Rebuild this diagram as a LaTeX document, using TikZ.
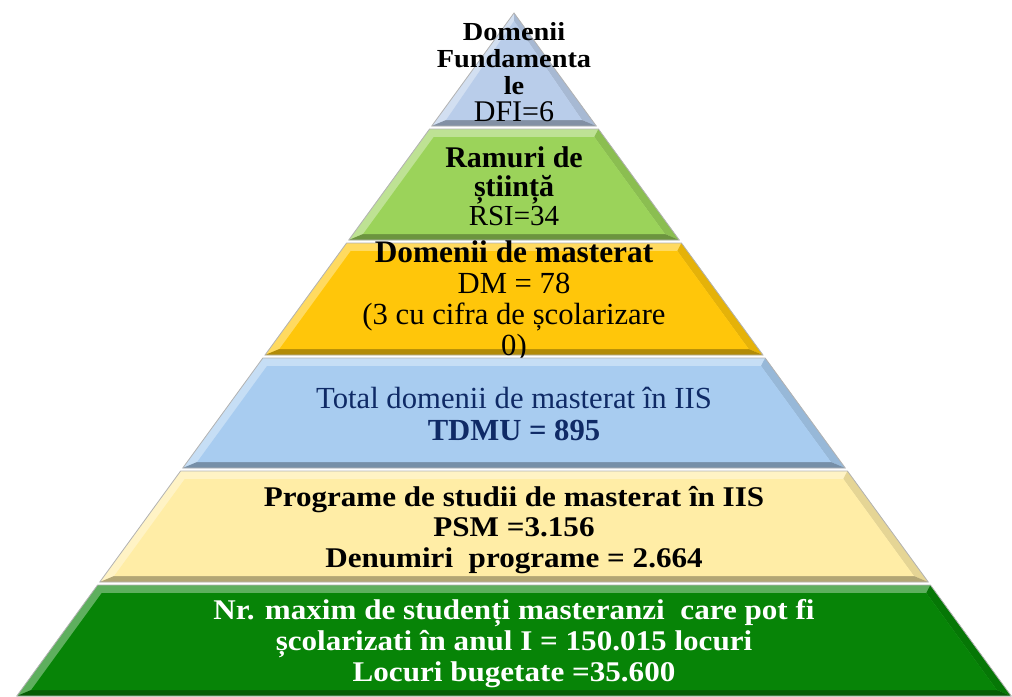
\documentclass[tikz,border=0pt]{standalone}
\usepackage{fontspec}
\setmainfont{Liberation Serif}
\newfontfamily\widefont{Liberation Serif}[FakeStretch=1.09]
\usetikzlibrary{calc}
\definecolor{cDFI}{HTML}{B9CDEA}
\definecolor{cRSI}{HTML}{9BD35A}
\definecolor{cDM}{HTML}{FFC60A}
\definecolor{cTDM}{HTML}{A8CCF0}
\definecolor{cPSM}{HTML}{FFEDA6}
\definecolor{cLOC}{HTML}{078407}
\definecolor{cNVY}{HTML}{0F2A66}

% one bevelled slice of the pyramid: top y, bottom y, colour
\newcommand{\pyrlayer}[3]{%
  \pgfmathsetmacro{\pwt}{0.728*(#1-13)}
  \pgfmathsetmacro{\pwb}{0.728*(#2-13)}
  \pgfmathsetmacro{\pwti}{max(0.728*(#1+8-13)-10,0)}
  \pgfmathsetmacro{\pwbi}{0.728*(#2-6-13)-10}
  \fill[#3!65!white] ({514-\pwt},#1) -- ({514+\pwt},#1) -- ({514+\pwb},#2) -- ({514-\pwb},#2) -- cycle;
  \fill[#3!90!black] ({514+\pwt},#1) -- ({514+\pwb},#2) -- ({514+\pwbi},#2-6) -- ({514+\pwti},#1+8) -- cycle;
  \fill[#3!70!black] ({514-\pwb},#2) -- ({514+\pwb},#2) -- ({514+\pwbi},#2-6) -- ({514-\pwbi},#2-6) -- cycle;
  \fill[#3] ({514-\pwti},#1+8) -- ({514+\pwti},#1+8) -- ({514+\pwbi},#2-6) -- ({514-\pwbi},#2-6) -- cycle;
  \draw[gray!60, line width=0.6pt] ({514-\pwt},#1) -- ({514+\pwt},#1) -- ({514+\pwb},#2) -- ({514-\pwb},#2) -- cycle;
}

\begin{document}
\begin{tikzpicture}[x=0.75pt, y=-0.75pt, lvl/.style={align=center, inner sep=0pt}]
\useasboundingbox (0,0) rectangle (1012,696);
\pyrlayer{13}{126}{cDFI}
\node[lvl, font=\widefont\bfseries\fontsize{19.5}{20.3}\selectfont] (dfi) at (514,72) {Domenii\\ Fundamenta\\ le\\ {\normalfont\fontsize{22.5}{22}\selectfont DFI=6}};
\pyrlayer{129}{240}{cRSI}
\node[lvl, font=\fontsize{22.5}{21.75}\selectfont] (rsi) at (514,186) {\textbf{Ramuri de}\\ \textbf{știință}\\ {\fontsize{21.75}{21.75}\selectfont RSI=34}};
\pyrlayer{243}{355}{cDM}
\node[lvl, font=\fontsize{23}{23.3}\selectfont] (dm) at (514,301) {{\fontsize{23.5}{23.3}\selectfont\textbf{Domenii de masterat}}\\ DM = 78\\ (3 cu cifra de școlarizare\\ 0)};
\pyrlayer{358}{468}{cTDM}
\node[lvl, text=cNVY, font=\fontsize{23}{24}\selectfont] (tdmu) at (514,414) {Total domenii de masterat în IIS\\ \textbf{TDMU = 895}};
\pyrlayer{471}{582}{cPSM}
\node[lvl, font=\widefont\bfseries\fontsize{21.4}{22.9}\selectfont] (psm) at (514,530) {Programe de studii de masterat în IIS\\ PSM =3.156\\ Denumiri\ \ programe = 2.664};
\pyrlayer{585}{696}{cLOC}
\node[lvl, text=white, font=\widefont\bfseries\fontsize{21.4}{23.25}\selectfont] (loc) at (514,644) {Nr. maxim de studenți masteranzi\ \ care pot fi\\ școlarizati în anul I = 150.015 locuri\\ Locuri bugetate =35.600};
\end{tikzpicture}
\end{document}
